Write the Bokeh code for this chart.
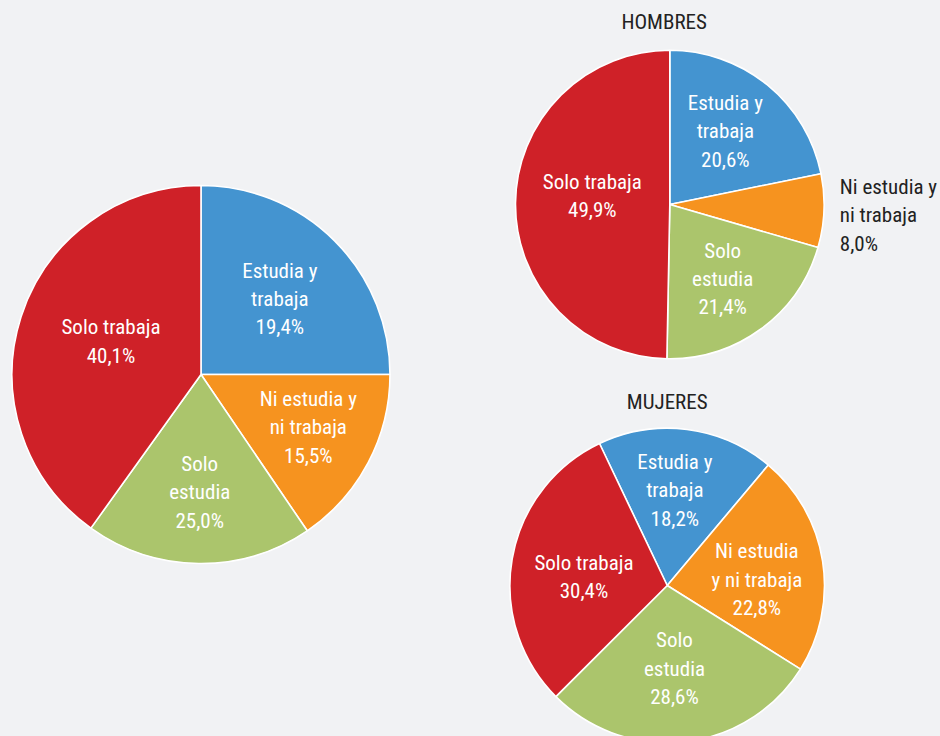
import math
from bokeh.plotting import figure
from bokeh.models import ColumnDataSource, Range1d
from bokeh.core.properties import value
from bokeh.embed import file_html
from bokeh.resources import INLINE

# ---------------- data ----------------
categories = ["Estudia y trabaja", "Ni estudia y ni trabaja", "Solo estudia", "Solo trabaja"]

total_names = ["Estudia y\ntrabaja", "Ni estudia y\nni trabaja", "Solo\nestudia", "Solo trabaja"]
total_values = [19.4, 15.5, 25.0, 40.1]
# wedge sizes as they are drawn in the source picture (blue and green swapped there)
total_slice_shares = [25.0, 15.5, 19.4, 40.1]

hombres_names = ["Estudia y\ntrabaja", "Ni estudia y\nni trabaja", "Solo\nestudia", "Solo trabaja"]
hombres_values = [20.6, 8.0, 21.4, 49.9]
hombres_slice_shares = [21.8, 7.7, 20.8, 49.7]

mujeres_names = ["Estudia y\ntrabaja", "Ni estudia\ny ni trabaja", "Solo\nestudia", "Solo trabaja"]
mujeres_values = [18.2, 22.8, 28.6, 30.4]
mujeres_slice_shares = [18.2, 22.8, 28.6, 30.4]

titles = ["HOMBRES", "MUJERES"]

# ---------------- style / layout ----------------
COLORS = ["#4494d0", "#f6931f", "#abc56c", "#cf2128"]
BG = "#f1f2f4"
FONT = "Liberation Sans Narrow, 'Roboto Condensed', 'DejaVu Sans Condensed', sans-serif"
W, H = 940, 736
PAGE_H = 736
FS = "21px"
LH = 1.18


def Y(img_y):
    return PAGE_H - img_y


def fmt(v):
    return f"{v:.1f}".replace(".", ",") + "%"


p = figure(width=W, height=H, output_backend="svg", toolbar_location=None,
           x_range=Range1d(0, W), y_range=Range1d(PAGE_H - H, PAGE_H),
           min_border=0)
p.axis.visible = False
p.grid.visible = False
p.outline_line_color = None
p.background_fill_color = BG
p.border_fill_color = BG


def draw_pie(cx, cy_img, r, start_deg, shares, values, names, lab_r, lab_da,
             outside=None):
    cy = Y(cy_img)
    starts, ends, mids = [], [], []
    a = start_deg
    for s in shares:
        e = a - s * 3.6
        starts.append(math.radians(a))
        ends.append(math.radians(e))
        mids.append((a + e) / 2)
        a = e
    src = ColumnDataSource(dict(x=[cx] * len(shares), y=[cy] * len(shares),
                                start=starts, end=ends, color=COLORS, cat=categories))
    p.wedge(x="x", y="y", radius=r, start_angle="start", end_angle="end",
            direction="clock", fill_color="color", line_color="white",
            line_width=1.6, source=src)
    lx, ly, txt, lx_o, ly_o, txt_o = [], [], [], [], [], []
    for i, (m, v, n) in enumerate(zip(mids, values, names)):
        ang = math.radians(m + lab_da[i])
        x = cx + lab_r[i] * r * math.cos(ang)
        y = cy + lab_r[i] * r * math.sin(ang)
        t = n + "\n" + fmt(v)
        if outside is not None and i == outside:
            lx_o.append(x); ly_o.append(y); txt_o.append(t)
        else:
            lx.append(x); ly.append(y); txt.append(t)
    p.text(x=lx, y=ly, text=txt, text_align="center", text_baseline="middle",
           text_font=value(FONT), text_font_size=FS, text_color="white",
           text_line_height=LH)
    if txt_o:
        p.text(x=lx_o, y=ly_o, text=txt_o, text_align="left", text_baseline="middle",
               text_font=value(FONT), text_font_size=FS, text_color="#222222",
               text_line_height=LH)


# Total pie
draw_pie(200.5, 374, 189, 90, total_slice_shares, total_values, total_names,
         lab_r=[0.578, 0.633, 0.623, 0.507], lab_da=[-1.2, 1.65, 0.1, -2.25])

# Hombres
draw_pie(669.3, 204, 154.3, 90, hombres_slice_shares, hombres_values, hombres_names,
         lab_r=[0.595, 1.104, 0.592, 0.505], lab_da=[2.0, -1.35, -1.0, -5.5],
         outside=1)

# Mujeres
draw_pie(666.7, 585, 157.3, 115.5, mujeres_slice_shares, mujeres_values, mujeres_names,
         lab_r=[0.606, 0.571, 0.531, 0.532], lab_da=[2.65, -5.15, -1.4, 4.1])

p.text(x=[663.7, 666.7], y=[Y(21.7), Y(401.7)], text=titles, text_align="center",
       text_baseline="middle", text_font=value(FONT), text_font_size="21px",
       text_color="#222222")

html = file_html(p, INLINE)
html = html.replace("</head>", "<style>html, body { background: %s; }</style></head>" % BG, 1)
open("out.html", "w").write(html)
